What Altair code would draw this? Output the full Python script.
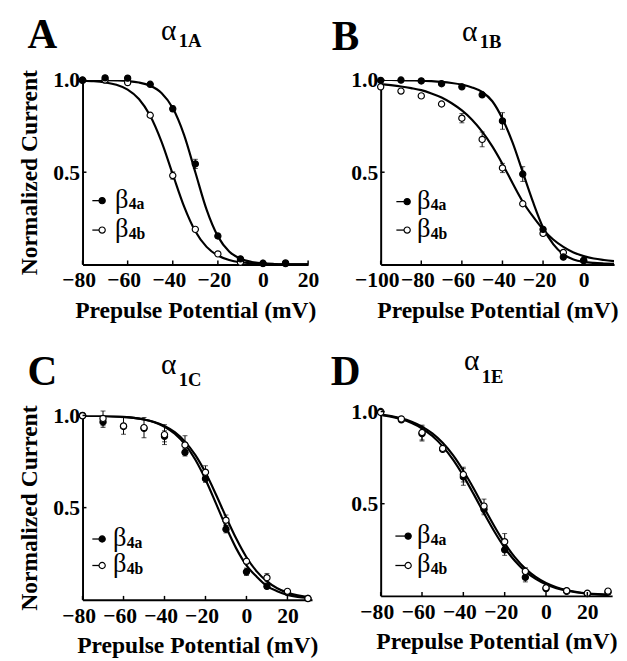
import altair as alt
import pandas as pd

FONT = "Liberation Serif, Times New Roman, Times, serif"

# ---------------- Panel A : alpha1A ----------------
a_v = [-80, -70, -60, -50, -40, -30, -20, -10, 0, 10]
a_b4a = [1.0, 1.012, 1.01, 0.977, 0.844, 0.545, 0.154, 0.03, 0.006, 0.004]
a_b4a_err = [0, 0, 0, 0, 0.015, 0.025, 0.012, 0, 0, 0]
a_b4b = [0.998, 1.0, 0.986, 0.809, 0.482, 0.19, 0.057, 0.012, 0.005, 0.008]
a_b4b_err = [0, 0, 0, 0.01, 0.02, 0, 0, 0, 0, 0]
a_fit_v = [-80, -75, -70, -65, -60, -55, -50, -45, -40, -35, -30, -25, -20, -15, -10, -5, 0, 5, 10, 15, 20]
a_fit_b4a = [0.9998, 0.9996, 0.999, 0.9976, 0.9944, 0.9867, 0.969, 0.930, 0.848, 0.703, 0.5, 0.297,
             0.152, 0.070, 0.031, 0.0133, 0.0056, 0.0024, 0.001, 0.0004, 0.0002]
a_fit_b4b = [0.997, 0.994, 0.987, 0.974, 0.948, 0.897, 0.806, 0.666, 0.489, 0.315, 0.18, 0.095,
             0.048, 0.0237, 0.0114, 0.0055, 0.0027, 0.0013, 0.0006, 0.0003, 0.0001]
a_ticks = [-80, -60, -40, -20, 0, 20]

# ---------------- Panel B : alpha1B ----------------
b_v = [-100, -90, -80, -70, -60, -50, -40, -30, -20, -10, 0]
b_b4a = [0.998, 1.0, 0.995, 0.98, 0.963, 0.92, 0.778, 0.49, 0.19, 0.04, 0.022]
b_b4a_err = [0, 0, 0, 0, 0, 0, 0.045, 0.04, 0, 0, 0]
b_b4b = [0.963, 0.94, 0.914, 0.87, 0.793, 0.678, 0.523, 0.329, 0.168, 0.065, 0.021]
b_b4b_err = [0, 0, 0, 0, 0.025, 0.04, 0.025, 0, 0, 0, 0]
b_fit_v = [-100, -95, -90, -85, -80, -75, -70, -65, -60, -55, -50, -45, -40, -35, -30, -25, -20,
           -15, -10, -5, 0, 5, 10, 15]
b_fit_b4a = [1.0, 1.0, 0.999, 0.998, 0.997, 0.994, 0.99, 0.984, 0.975, 0.96, 0.935, 0.885, 0.79,
             0.66, 0.5, 0.34, 0.2, 0.11, 0.055, 0.027, 0.014, 0.008, 0.005, 0.003]
b_fit_b4b = [0.978, 0.972, 0.965, 0.956, 0.945, 0.927, 0.905, 0.874, 0.835, 0.785, 0.72, 0.64,
             0.545, 0.44, 0.34, 0.26, 0.19, 0.135, 0.095, 0.065, 0.045, 0.032, 0.024, 0.018]
b_ticks = [-100, -80, -60, -40, -20, 0]

# ---------------- Panel C : alpha1C ----------------
c_v = [-80, -70, -60, -50, -40, -30, -20, -10, 0, 10, 20, 30]
c_b4a = [1.0, 0.965, 0.94, 0.93, 0.887, 0.80, 0.657, 0.383, 0.152, 0.073, 0.04, 0.008]
c_b4a_err = [0, 0.03, 0, 0, 0.03, 0.02, 0.02, 0.02, 0.02, 0.01, 0, 0]
c_b4b = [0.998, 0.984, 0.943, 0.934, 0.896, 0.84, 0.692, 0.432, 0.209, 0.12, 0.046, 0.007]
c_b4b_err = [0, 0.04, 0.045, 0.055, 0.054, 0.05, 0.035, 0.028, 0, 0.023, 0, 0]
c_fit_v = [-80, -75, -70, -65, -60, -55, -50, -45, -40, -35, -30, -25, -20, -15, -10, -5, 0, 5, 10,
           15, 20, 25, 30]
c_fit_b4a = [0.999, 0.998, 0.997, 0.995, 0.992, 0.987, 0.978, 0.963, 0.939, 0.901, 0.843, 0.761,
             0.653, 0.526, 0.396, 0.279, 0.187, 0.125, 0.074, 0.047, 0.027, 0.016, 0.010]
c_fit_b4b = [0.9989, 0.998, 0.997, 0.995, 0.992, 0.987, 0.978, 0.964, 0.943, 0.909, 0.858, 0.786,
             0.69, 0.574, 0.45, 0.332, 0.231, 0.154, 0.0998, 0.063, 0.039, 0.024, 0.0148]
c_ticks = [-80, -60, -40, -20, 0, 20]

# ---------------- Panel D : alpha1E ----------------
d_v = [-80, -70, -60, -50, -40, -30, -20, -10, 0, 10, 20, 30]
d_b4a = [1.0, 0.955, 0.88, 0.795, 0.645, 0.47, 0.25, 0.101, 0.04, 0.025, 0.012, 0.02]
d_b4a_err = [0, 0, 0.04, 0, 0.045, 0.03, 0.03, 0.025, 0, 0, 0, 0]
d_b4b = [0.995, 0.96, 0.886, 0.80, 0.658, 0.487, 0.294, 0.133, 0.044, 0.028, 0.014, 0.026]
d_b4b_err = [0, 0.01, 0.04, 0, 0.04, 0.038, 0.044, 0.02, 0, 0, 0, 0]
d_fit_v = [-80, -75, -70, -65, -60, -55, -50, -45, -40, -35, -30, -25, -20, -15, -10, -5, 0, 5, 10,
           15, 20, 25, 30]
d_fit_b4a = [0.981, 0.972, 0.958, 0.9375, 0.908, 0.867, 0.811, 0.739, 0.651, 0.552, 0.448, 0.349,
             0.261, 0.189, 0.133, 0.092, 0.0625, 0.042, 0.028, 0.0187, 0.0124, 0.0082, 0.0054]
d_fit_b4b = [0.983, 0.975, 0.963, 0.944, 0.918, 0.881, 0.830, 0.763, 0.679, 0.583, 0.479, 0.378,
             0.286, 0.209, 0.148, 0.103, 0.070, 0.0474, 0.0318, 0.0212, 0.0141, 0.0093, 0.0062]
d_ticks = [-80, -60, -40, -20, 0, 20]

y_ticks = [0.5, 1.0]

H = 188
LABEL_OFFSET = {"condition": {"test": "datum.value < 0", "value": -4}, "value": 0}


def one_row():
    return pd.DataFrame({"k": [0]})


def text_layer(txt, x, y, size, weight="normal"):
    return alt.Chart(one_row()).mark_text(
        text=txt, font=FONT, fontSize=size, fontWeight=weight, align="left",
        baseline="alphabetic", color="black"
    ).encode(x=alt.value(x), y=alt.value(y))


def panel(letter, sub, v, s4a, e4a, s4b, e4b, fv, f4a, f4b, xdom, xticks, width, show_y,
          geo, filled_on_top=True):
    pts = []
    for name, s, e in (("b4a", s4a, e4a), ("b4b", s4b, e4b)):
        for vi, si, ei in zip(v, s, e):
            pts.append(dict(V=vi, I=si, lo=si - ei, hi=si + ei, err=ei, series=name))
    pts = pd.DataFrame(pts)
    errs = pts[pts.err > 0]
    caps = pd.concat([errs.assign(I=errs.lo), errs.assign(I=errs.hi)])
    fit = pd.DataFrame(
        [dict(V=a, I=b, series="b4a") for a, b in zip(fv, f4a)]
        + [dict(V=a, I=b, series="b4b") for a, b in zip(fv, f4b)]
    )

    xs = alt.Scale(domain=xdom, nice=False, zero=False)
    ys = alt.Scale(domain=[0, 1], nice=False, zero=False)
    xaxis = alt.Axis(values=xticks, title="Prepulse Potential (mV)", labelOffset=LABEL_OFFSET)
    yargs = dict(values=y_ticks, format=".1f")
    yargs["title"] = "Normalized Current" if show_y else ""
    yaxis = alt.Axis(**yargs)
    X = alt.X("V:Q", scale=xs, axis=xaxis)
    Y = alt.Y("I:Q", scale=ys, axis=yaxis)

    curves = alt.Chart(fit).mark_line(color="black", strokeWidth=2.2, interpolate="monotone",
                                      clip=True).encode(x=X, y=Y, detail="series:N")
    bars = alt.Chart(errs).mark_rule(color="black", strokeWidth=1).encode(
        x=X, y=alt.Y("lo:Q", scale=ys, axis=yaxis), y2="hi:Q")
    capm = alt.Chart(caps).mark_tick(color="black", orient="horizontal", size=5,
                                     thickness=1).encode(x=X, y=Y)

    def pts_layer(name):
        fill = "black" if name == "b4a" else "white"
        return alt.Chart(pts[pts.series == name]).mark_point(
            shape="circle", filled=True, size=40, fill=fill, stroke="black", strokeWidth=1.2,
            opacity=1
        ).encode(x=X, y=Y)

    order = ["b4b", "b4a"] if filled_on_top else ["b4a", "b4b"]
    p1, p2 = pts_layer(order[0]), pts_layer(order[1])

    xt = alt.Chart(pd.DataFrame({"V": xticks})).mark_rule(color="black", strokeWidth=1.5).encode(
        x=X, y=alt.value(H), y2=alt.value(H - 4))
    yt = alt.Chart(pd.DataFrame({"I": y_ticks})).mark_rule(color="black", strokeWidth=1.5).encode(
        y=Y, x=alt.value(0), x2=alt.value(4))

    g = geo
    layers = [curves, bars, capm, p1, p2, xt, yt,
              text_layer(letter, g["lx"], g["ly"], 42, "bold"),
              text_layer("α", g["ax"], g["ay"], 30),
              text_layer(sub, g["ax"] + 18, g["sy"], 19, "bold")]
    # legend
    for row, name in ((g["r1"], "b4a"), (g["r2"], "b4b")):
        fill = "black" if name == "b4a" else "white"
        layers.append(alt.Chart(one_row()).mark_rule(color="black", strokeWidth=1.3).encode(
            x=alt.value(g["kx"]), x2=alt.value(g["cx"] - 3), y=alt.value(row)))
        layers.append(alt.Chart(one_row()).mark_point(
            shape="circle", filled=True, size=40, fill=fill, stroke="black", strokeWidth=1.2,
            opacity=1).encode(x=alt.value(g["cx"]), y=alt.value(row)))
        layers.append(text_layer("β", g["bx"], row + 7, 27))
        layers.append(text_layer("4a" if name == "b4a" else "4b", g["bx"] + 14, row + 9, 16,
                                 "bold"))
    return alt.layer(*layers).properties(width=width, height=H)


A = panel("A", "1A", a_v, a_b4a, a_b4a_err, a_b4b, a_b4b_err, a_fit_v, a_fit_b4a, a_fit_b4b,
          [-80, 20], a_ticks, 230, True,
          dict(lx=-56, ly=-33, ax=80, ay=-41, sy=-34, r1=123, r2=153, kx=10, cx=20, bx=33))
B = panel("B", "1B", b_v, b_b4a, b_b4a_err, b_b4b, b_b4b_err, b_fit_v, b_fit_b4a, b_fit_b4b,
          [-100, 15], b_ticks, 238, False,
          dict(lx=-50, ly=-31, ax=83, ay=-40, sy=-33, r1=124, r2=153, kx=16, cx=27, bx=37))
C = panel("C", "1C", c_v, c_b4a, c_b4a_err, c_b4b, c_b4b_err, c_fit_v, c_fit_b4a, c_fit_b4b,
          [-80, 32], c_ticks, 234, True,
          dict(lx=-56, ly=-31, ax=80, ay=-42, sy=-30, r1=126, r2=153, kx=10, cx=20, bx=31),
          filled_on_top=False)
D = panel("D", "1E", d_v, d_b4a, d_b4a_err, d_b4b, d_b4b_err, d_fit_v, d_fit_b4a, d_fit_b4b,
          [-80, 32], d_ticks, 236, False,
          dict(lx=-51, ly=-27, ax=85, ay=-42, sy=-29, r1=127, r2=157, kx=15, cx=28, bx=37),
          filled_on_top=False)

left = alt.vconcat(A, C, spacing=29)
right = alt.vconcat(B, D, spacing=25)

chart = alt.hconcat(left, right, spacing=12).properties(
    padding={"left": 10, "top": 0, "right": 0, "bottom": 0}
).configure_view(stroke=None).configure_axis(
    grid=False, ticks=False, domainColor="black", domainWidth=2,
    labelFont=FONT, labelFontSize=22, labelFontWeight="bold", labelColor="black",
    titleFont=FONT, titleFontSize=24, titleFontWeight="bold", titleColor="black",
    labelOverlap=False, labelFlush=False,
).configure_axisX(labelPadding=6, titlePadding=8).configure_axisY(labelPadding=3, titlePadding=11)

chart.save("out.html", embed_options={"renderer": "svg", "actions": False})
